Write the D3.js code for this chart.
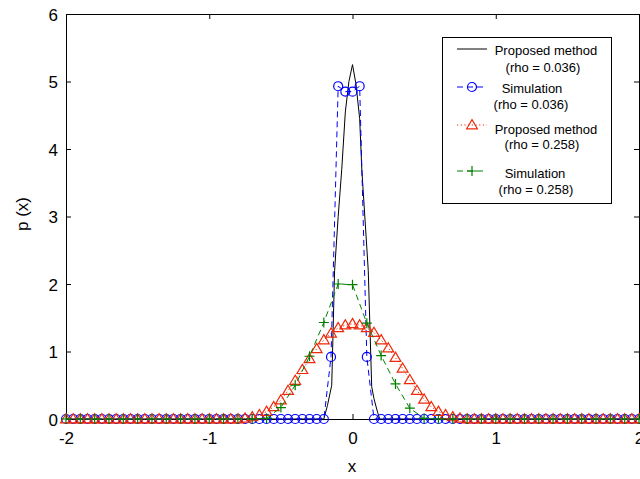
<!DOCTYPE html>
<html>
<head>
<meta charset="utf-8">
<script src="https://cdn.jsdelivr.net/npm/d3@7"></script>
<style>
  html, body { margin: 0; padding: 0; background: #fff; }
  svg { display: block; }
  text { font-family: Arial, "Liberation Sans", Helvetica, sans-serif; fill: #000; }
</style>
</head>
<body>
<svg id="chart" width="640" height="479"></svg>
<script>
// Axis ticks
const xTicks = [-2, -1, 0, 1, 2];
const yTicks = [0, 1, 2, 3, 4, 5, 6];

// Sample positions: fine grid (step 0.05) and coarse grid (step 0.1)
const xFine = d3.range(81).map(i => -2 + i * 0.05);
const xCoarse = d3.range(41).map(i => -2 + i * 0.1);

// Proposed method, rho = 0.036 (analytic curve)
const propSmallX = [-2, -0.2, -0.175, -0.145, -0.125, -0.1, -0.075, -0.05, -0.025, 0,
                    0.025, 0.05, 0.065, 0.11, 0.134, 0.15, 0.175, 0.19, 2];
const propSmallY = [0, 0, 0.2, 0.5, 2.2, 3.0, 3.7, 4.55, 5.0, 5.25,
                    4.95, 4.45, 3.7, 2.2, 0.48, 0.3, 0.1, 0, 0];

// Simulation, rho = 0.036 (fine grid)
const simSmall = [
  0, 0, 0, 0, 0, 0, 0, 0, 0, 0,
  0, 0, 0, 0, 0, 0, 0, 0, 0, 0,
  0, 0, 0, 0, 0, 0, 0, 0, 0, 0,
  0, 0, 0, 0, 0, 0, 0, 0.92, 4.93, 4.85,
  4.85, 4.93, 0.92, 0, 0, 0, 0, 0, 0, 0,
  0, 0, 0, 0, 0, 0, 0, 0, 0, 0,
  0, 0, 0, 0, 0, 0, 0, 0, 0, 0,
  0, 0, 0, 0, 0, 0, 0, 0, 0, 0,
  0
];

// Proposed method, rho = 0.258 (fine grid)
const propLarge = [
  0, 0, 0, 0, 0, 0, 0, 0, 0, 0,
  0, 0, 0, 0, 0, 0, 0, 0, 0, 0,
  0, 0, 0, 0, 0, 0.01, 0.03, 0.06, 0.11, 0.18,
  0.28, 0.42, 0.57, 0.73, 0.89, 1.04, 1.17, 1.27, 1.35, 1.39,
  1.41, 1.39, 1.35, 1.28, 1.17, 1.05, 0.91, 0.75, 0.58, 0.42,
  0.29, 0.18, 0.11, 0.06, 0.03, 0.01, 0, 0, 0, 0,
  0, 0, 0, 0, 0, 0, 0, 0, 0, 0,
  0, 0, 0, 0, 0, 0, 0, 0, 0, 0,
  0
];

// Simulation, rho = 0.258 (coarse grid)
const simLarge = [
  0, 0, 0, 0, 0, 0, 0, 0, 0, 0,
  0, 0, 0, 0, 0.01, 0.17, 0.5, 0.93, 1.43, 2.0,
  1.99, 1.42, 0.94, 0.52, 0.16, 0.01, 0, 0, 0, 0,
  0, 0, 0, 0, 0, 0, 0, 0, 0, 0,
  0
];

const legendEntries = [
  { lines: ["Proposed method", "(rho = 0.036)"], color: "#000000", dash: null, marker: null },
  { lines: ["Simulation", "(rho = 0.036)"], color: "#0000ff", dash: "6,4", marker: "circle" },
  { lines: ["Proposed method", "(rho = 0.258)"], color: "#ee2a0a", dash: "1.2,2.5", marker: "triangle" },
  { lines: ["Simulation", "(rho = 0.258)"], color: "#008000", dash: "6,4", marker: "plus" }
];

const svg = d3.select("#chart");
const plot = { left: 66, right: 639, top: 14, bottom: 419 };

const x = d3.scaleLinear().domain([-2, 2]).range([plot.left, plot.right]);
const y = d3.scaleLinear().domain([0, 6]).range([plot.bottom, plot.top]);

// Axes frame with inward ticks on all four sides
const tickLen = 5;
const axB = svg.append("g").attr("transform", `translate(0,${plot.bottom})`)
  .call(d3.axisBottom(x).tickValues(xTicks).tickSizeInner(-tickLen).tickSizeOuter(0).tickPadding(13)
    .tickFormat(d3.format("d")));
const axT = svg.append("g").attr("transform", `translate(0,${plot.top})`)
  .call(d3.axisTop(x).tickValues(xTicks).tickSizeInner(-tickLen).tickSizeOuter(0).tickFormat(""));
const axL = svg.append("g").attr("transform", `translate(${plot.left},0)`)
  .call(d3.axisLeft(y).tickValues(yTicks).tickSizeInner(-tickLen).tickSizeOuter(0).tickPadding(8)
    .tickFormat(d3.format("d")));
const axR = svg.append("g").attr("transform", `translate(${plot.right},0)`)
  .call(d3.axisRight(y).tickValues(yTicks).tickSizeInner(-tickLen).tickSizeOuter(0).tickFormat(""));

[axB, axT, axL, axR].forEach(g => {
  g.selectAll("path.domain").attr("stroke", "#000").attr("stroke-width", 1);
  g.selectAll(".tick line").attr("stroke", "#000");
  g.selectAll("text").style("font-size", "17px").attr("fill", "#000")
    .style("font-family", "Arial, 'Liberation Sans', Helvetica, sans-serif");
});
axB.selectAll("text").attr("dy", "0.71em");
axL.selectAll("text").attr("dy", "0.36em");
axB.selectAll(".tick text").text(d => d < 0 ? "-" + Math.abs(d) : d);

// Axis titles
svg.append("text").attr("x", 352).attr("y", 472).attr("text-anchor", "middle")
  .style("font-size", "17px").text("x");
svg.append("text").attr("transform", "translate(28,214) rotate(-90)").attr("text-anchor", "middle")
  .style("font-size", "17px").text("p (x)");

const clipG = svg.append("g");

// Marker path generators
function markerPath(type, cx, cy) {
  if (type === "circle") {
    const r = 4.5;
    return `M${cx - r},${cy}a${r},${r} 0 1,0 ${2 * r},0a${r},${r} 0 1,0 ${-2 * r},0`;
  }
  if (type === "triangle") {
    const h = 5.4, w = 5.4;
    return `M${cx},${cy - h}L${cx + w},${cy + h * 0.7}L${cx - w},${cy + h * 0.7}Z`;
  }
  if (type === "plus") {
    const s = 5;
    return `M${cx - s},${cy}H${cx + s}M${cx},${cy - s}V${cy + s}`;
  }
  return "";
}

function drawSeries(xs, ys, style) {
  const pts = xs.map((d, i) => [d, ys[i]]);
  const line = d3.line().x(d => x(d[0])).y(d => y(d[1]));
  clipG.append("path").datum(pts)
    .attr("d", line)
    .attr("fill", "none")
    .attr("stroke", style.color)
    .attr("stroke-width", 1)
    .attr("stroke-dasharray", style.dash);
  if (style.marker) {
    clipG.append("g").selectAll("path").data(pts).join("path")
      .attr("d", d => markerPath(style.marker, x(d[0]), y(d[1])))
      .attr("fill", "none")
      .attr("stroke", style.color)
      .attr("stroke-width", 1.2);
  }
}

drawSeries(propSmallX, propSmallY, legendEntries[0]);
drawSeries(xFine, simSmall, legendEntries[1]);
drawSeries(xFine, propLarge, legendEntries[2]);
drawSeries(xCoarse, simLarge, legendEntries[3]);

// Legend
const lg = svg.append("g");
lg.append("rect").attr("x", 442.5).attr("y", 37.5).attr("width", 169).attr("height", 166)
  .attr("fill", "#fff").attr("stroke", "#000").attr("stroke-width", 1);

const sampleY = [49, 87, 125, 171];
const textY = [[50, 67], [88, 104], [129, 144], [173, 189]];
const textX = [[546, 543], [532, 531], [546, 542], [535, 536]];

legendEntries.forEach((e, i) => {
  lg.append("line").attr("x1", 457).attr("x2", 487)
    .attr("y1", sampleY[i]).attr("y2", sampleY[i])
    .attr("stroke", e.color).attr("stroke-width", 1)
    .attr("stroke-dasharray", e.dash);
  if (e.marker) {
    lg.append("path").attr("d", markerPath(e.marker, 472, sampleY[i]))
      .attr("fill", "none").attr("stroke", e.color).attr("stroke-width", 1.2);
  }
  e.lines.forEach((t, j) => {
    lg.append("text").attr("x", textX[i][j]).attr("y", textY[i][j])
      .attr("dy", "0.36em").attr("text-anchor", "middle")
      .style("font-size", "13px").text(t);
  });
});
</script>
</body>
</html>
